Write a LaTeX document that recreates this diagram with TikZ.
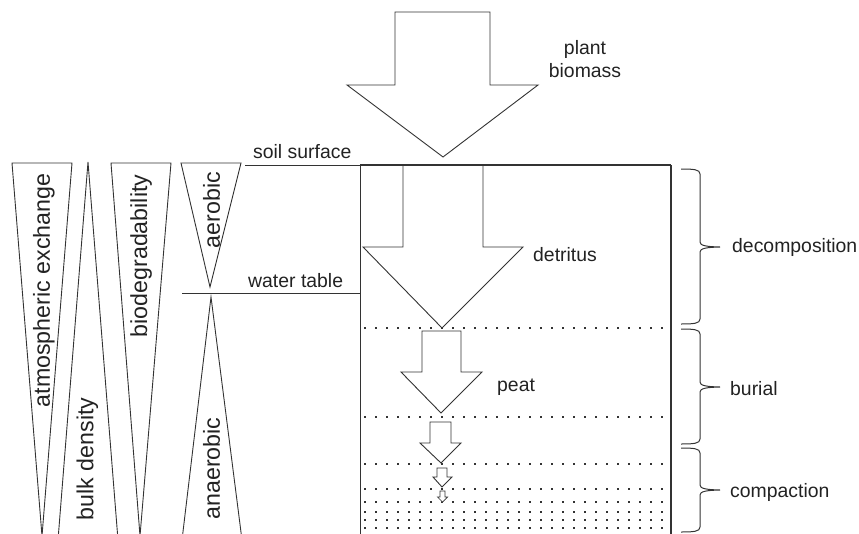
\documentclass[tikz,border=0pt]{standalone}
\usepackage{fontspec}
\setmainfont{Liberation Sans}
\definecolor{ink}{HTML}{333333}
\definecolor{txt}{HTML}{222222}
\newcommand\soilbrace[3]{% top, middle, bottom
  \draw[brcl] (681,#1) .. controls (694,#1) and (700,#1+0.5) .. (700,#1+5)
    -- (700,#2-5) .. controls (700,#2-1.5) and (706,#2-0.3) .. (720,#2)
    .. controls (706,#2+0.3) and (700,#2+1.5) .. (700,#2+5)
    -- (700,#3-5) .. controls (700,#3-0.5) and (694,#3) .. (681,#3);}
\begin{document}
\begin{tikzpicture}[x=1pt,y=-1pt,
  lbl/.style={font=\fontsize{19.4}{23}\selectfont, text=txt, inner sep=0pt},
  vlbl/.style={font=\fontsize{23.2}{27}\selectfont, text=txt, inner sep=0pt, rotate=90},
  outl/.style={draw=ink, line width=0.9pt, line join=miter},
  rim/.style={draw=ink, line width=1.3pt},
  dotrow/.style={draw=ink, line width=2pt, dash pattern=on 2pt off 9pt},
  brcl/.style={draw=ink, line width=1pt}]
\useasboundingbox (0,0) rectangle (859,533);
\clip (0,0) rectangle (859,533);

% left wedges
\draw[outl] (12,163) -- (72,163) -- (42,536) -- cycle;
\draw[outl] (58,540) -- (88,162) -- (118,540);
\draw[outl] (111,163) -- (171,163) -- (140,536) -- cycle;
\draw[outl] (181,163) -- (241,163) -- (210,287) -- cycle;
\draw[outl] (182,540) -- (211,297) -- (242,540);

\node[vlbl] (atm) at (44,290.5) {atmospheric exchange};
\node[vlbl] (bulk) at (87.5,459) {bulk density};
\node[vlbl] (bio) at (141,256) {biodegradability};
\node[vlbl] (aer) at (211.5,210) {aerobic};
\node[vlbl] (ana) at (211.5,468.5) {anaerobic};

% soil column
\draw[outl, line width=1pt] (245,165) -- (360,165);
\draw[rim] (360,165) -- (671,165);
\draw[rim] (360.5,165) -- (360.5,536);
\draw[rim] (671,165) -- (671,536);
\draw[outl, line width=1pt] (182,293) -- (360,293);

\node[lbl, anchor=base west] (soil) at (253,158) {soil surface};
\node[lbl, anchor=base west] (water) at (248,287) {water table};

% layers
\foreach \yy in {328,417,464,489,502,512,520,528}
  \draw[dotrow] (364,\yy) -- (668,\yy);

% arrows
\draw[outl, fill=white] (395,12) -- (490,12) -- (490,85) -- (538,85) -- (443,157) -- (347,85) -- (395,85) -- cycle;
\draw[outl] (403,165) -- (403,247) -- (363,247) -- (442,328) -- (523,247) -- (483,247) -- (483,165);
\draw[outl, fill=white] (422,331) -- (461,331) -- (461,372) -- (482,372) -- (441,413) -- (401,372) -- (422,372) -- cycle;
\draw[outl, fill=white] (430,422) -- (451,422) -- (451,443) -- (461,443) -- (441,463) -- (420,443) -- (430,443) -- cycle;
\draw[outl, fill=white] (437,468) -- (447,468) -- (447,477) -- (452,477) -- (442,487) -- (433,477) -- (437,477) -- cycle;
\draw[outl, fill=white, line width=0.7pt] (440,491) -- (445,491) -- (445,497) -- (447.5,497) -- (442.5,502) -- (437.5,497) -- (440,497) -- cycle;

\node[lbl, align=center, anchor=base] (plant) at (585,77) {plant\\biomass};
\node[lbl, anchor=base west] (detritus) at (533,261) {detritus};
\node[lbl, anchor=base west] (peat) at (497,391) {peat};

% braces
\soilbrace{169}{247}{324}
\soilbrace{329}{387}{444}
\soilbrace{448}{490}{532}

\node[lbl, anchor=base west] (decomp) at (732,252) {decomposition};
\node[lbl, anchor=base west] (burial) at (730,395) {burial};
\node[lbl, anchor=base west] (compact) at (730,497) {compaction};
\end{tikzpicture}
\end{document}
